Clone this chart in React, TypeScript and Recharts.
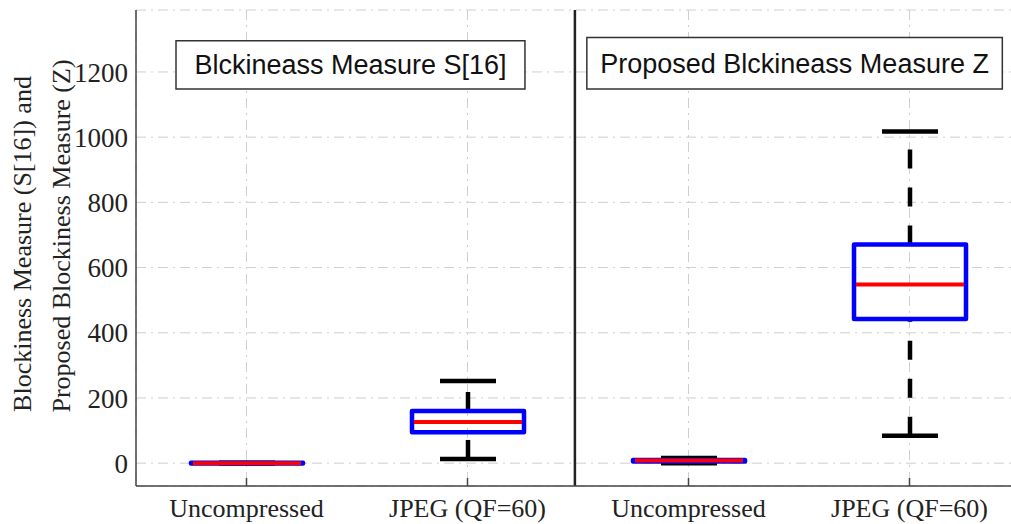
import { Bar, ComposedChart, CartesianGrid, XAxis, YAxis, ReferenceLine, ReferenceArea, Customized } from 'recharts';

const categories = ['Uncompressed', 'JPEG (QF=60)', 'Uncompressed', 'JPEG (QF=60)'];
const mins = [-1, 13, 0, 84];
const q1s = [-1, 95, 5, 442];
const medians = [0, 126, 8, 548];
const q3s = [1, 160, 10, 671];
const maxs = [1, 252, 16, 1017];
const yTicks = [0, 200, 400, 600, 800, 1000, 1200];

const data = categories.map((name, i) => ({
    slot: i,
    name,
    range: [mins[i], maxs[i]],
    min: mins[i],
    q1: q1s[i],
    median: medians[i],
    q3: q3s[i],
    max: maxs[i],
}));

const serif = '"Liberation Serif", "Times New Roman", serif';
const sans = '"Liberation Sans", Arial, sans-serif';

const BoxShape = (props: any) => {
    const { x, y, width, height, payload } = props;
    const top = Math.min(y, y + height);
    const bottom = Math.max(y, y + height);
    const lo = payload.min;
    const hi = payload.max;
    const px = (v: number) => bottom - ((v - lo) / (hi - lo)) * (bottom - top);
    const cx = x + width / 2;
    const capHalf = width / 4;
    return (
        <g>
            <line x1={cx} x2={cx} y1={px(payload.q3)} y2={px(payload.max)} stroke='#000' strokeWidth={4.5} strokeDasharray='19 19' />
            <line x1={cx} x2={cx} y1={px(payload.min)} y2={px(payload.q1)} stroke='#000' strokeWidth={4.5} strokeDasharray='19 19' />
            <line x1={cx - capHalf} x2={cx + capHalf} y1={px(payload.max)} y2={px(payload.max)} stroke='#000' strokeWidth={4.5} />
            <line x1={cx - capHalf} x2={cx + capHalf} y1={px(payload.min)} y2={px(payload.min)} stroke='#000' strokeWidth={4.5} />
            <rect x={x} y={px(payload.q3)} width={width} height={px(payload.q1) - px(payload.q3)} fill='none' stroke='#0000ff' strokeWidth={4.5} strokeLinejoin='round' />
            <line x1={x + 2} x2={x + width - 2} y1={px(payload.median)} y2={px(payload.median)} stroke='#ff0000' strokeWidth={4} />
        </g>
    );
};

const BottomTick = (props: any) => {
    const { x, y, payload } = props;
    const axisY = y - 13;
    return (
        <g>
            <line x1={x} x2={x} y1={axisY} y2={axisY - 8} stroke='#444' strokeWidth={1.5} />
            <text x={x} y={y} dy='0.71em' textAnchor='middle' fontFamily={serif} fontSize={26} fill='#222'>
                {categories[payload.value]}
            </text>
        </g>
    );
};

const TopTick = (props: any) => {
    const { x } = props;
    return <line x1={x} x2={x} y1={10} y2={18} stroke='#444' strokeWidth={1.5} />;
};

const YLabels = () => (
    <g fontFamily={serif} fontSize={26} fill='#222'>
        <text transform='translate(31 244) rotate(-90)' textAnchor='middle'>Blockiness Measure (S[16]) and</text>
        <text transform='translate(70 236) rotate(-90)' textAnchor='middle'>Proposed Blockiness Measure (Z)</text>
    </g>
);

export default function App() {
    return (
        <div style={{ position: 'absolute', left: 0, top: 0, width: 1011, height: 524, overflow: 'hidden', background: '#fff' }}>
            <ComposedChart width={1030} height={524} data={data} margin={{ top: 10, right: 10, bottom: 0, left: 0 }}>
                <CartesianGrid stroke='#cfcfcf' strokeDasharray='10 5 2 5' />
                <XAxis dataKey='slot' xAxisId='cat' height={38} tick={<BottomTick />} tickLine={false} tickSize={6} tickMargin={7} axisLine={{ stroke: '#444', strokeWidth: 1.5 }} />
                <XAxis dataKey='slot' xAxisId='top' orientation='top' height={0} tick={<TopTick />} tickLine={false} axisLine={{ stroke: '#444', strokeWidth: 1.5 }} />
                <XAxis dataKey='slot' xAxisId='num' type='number' domain={[-0.5, 3.5]} allowDataOverflow hide />
                <YAxis width={136} domain={[-70, 1390]} ticks={yTicks} tickLine={false} tickSize={6} tickMargin={2} axisLine={{ stroke: '#444', strokeWidth: 1.5 }} tick={{ fontFamily: serif, fontSize: 27, fill: '#222' }} />
                <ReferenceArea xAxisId='num' x1={-0.319} x2={1.26} y1={1148} y2={1296} fill='#fff' fillOpacity={1} stroke='#333' strokeWidth={1.5}
                    label={{ value: 'Blckineass Measure S[16]', position: 'center', fontFamily: sans, fontSize: 27, fill: '#111' }} />
                <ReferenceArea xAxisId='num' x1={1.54} x2={3.42} y1={1148} y2={1306} fill='#fff' fillOpacity={1} stroke='#333' strokeWidth={1.5}
                    label={{ value: 'Proposed Blckineass Measure Z', position: 'center', fontFamily: sans, fontSize: 27, fill: '#111' }} />
                <ReferenceLine xAxisId='num' x={1.486} stroke='#222' strokeWidth={2.5} />
                <Bar xAxisId='cat' dataKey='range' barSize={112} shape={<BoxShape />} isAnimationActive={false} />
                <Customized component={<YLabels />} />
            </ComposedChart>
        </div>
    );
}
